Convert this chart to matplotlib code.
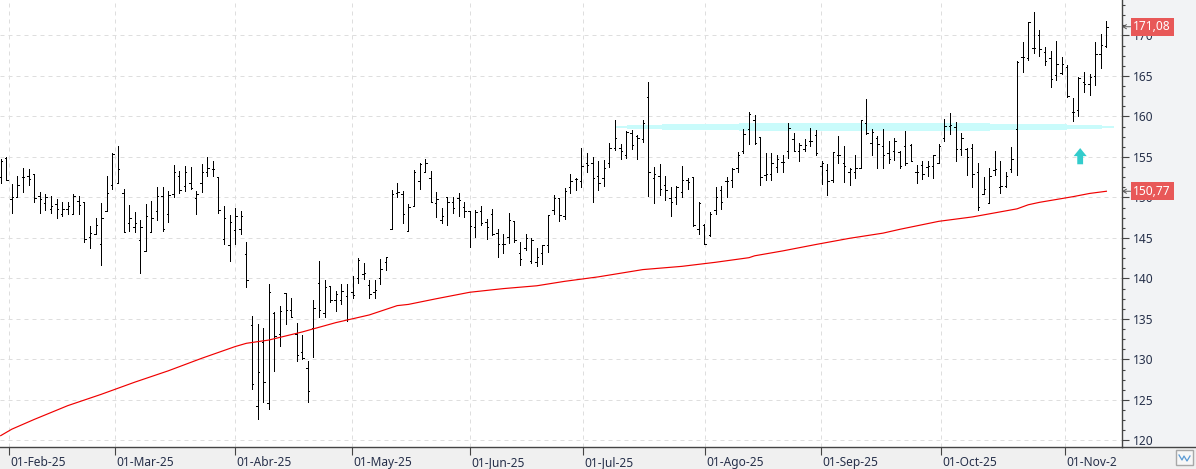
import matplotlib
matplotlib.use('Agg')
import matplotlib.pyplot as plt
from matplotlib.patches import Rectangle
from matplotlib.transforms import ScaledTranslation

plt.rcParams['font.family'] = ['Noto Sans', 'DejaVu Sans']

# daily OHLC, one row = 10 sessions
opens = [
    152.5, 154.9, 149.8, 150.0, 152.5, 152.7, 152.9, 150.2, 149.3, 148.6,
    149.2, 148.0, 148.6, 148.0, 149.6, 149.4, 145.1, 145.5, 144.3, 148.3,
    151.5, 151.8, 150.5, 146.9, 146.4, 144.8, 143.4, 145.7, 148.3, 150.2,
    148.0, 150.4, 152.65, 151.4, 151.75, 149.9, 151.75, 153.1, 153.5, 152.5,
    144.9, 144.1, 146.0, 146.1, 143.0, 134.2, 124.3, 132.2, 124.6, 135.8,
    133.1, 138.2, 136.1, 133.2, 130.9, 129.0, 133.85, 139.4, 135.7, 139.1,
    137.3, 137.4, 137.8, 138.3, 140.0, 140.6, 139.2, 138.3, 140.0, 142.0,
    146.1, 150.6, 150.4, 145.9, 149.0, 152.0, 153.2, 152.4, 149.3, 147.2,
    150.1, 149.5, 149.9, 148.8, 148.3, 146.4, 148.3, 147.0, 148.0, 145.6,
    144.3, 145.1, 147.1, 143.1, 143.8, 142.2, 142.0, 143.2, 144.1, 148.5,
    149.9, 147.7, 151.3, 152.3, 152.0, 154.2, 154.2, 152.6, 152.4, 154.3,
    156.15, 156.1, 155.3, 157.9, 157.6, 157.2, 162.4, 152.4, 152.7, 151.5,
    149.9, 150.1, 150.7, 152.2, 152.5, 146.1, 146.65, 145.4, 148.4, 150.9,
    152.0, 152.2, 153.7, 155.8, 158.4, 159.6, 157.5, 152.8, 152.9, 153.8,
    154.4, 155.7, 157.2, 155.8, 156.0, 157.0, 157.7, 153.9, 153.4, 152.2,
    155.25, 154.3, 153.1, 153.1, 153.7, 159.15, 156.7, 157.3, 156.4, 155.45,
    155.8, 155.6, 156.4, 156.5, 153.15, 154.0, 153.8, 153.9, 154.3, 157.4,
    158.8, 158.7, 156.0, 156.0, 156.1, 153.1, 150.4, 149.3, 153.4, 151.3,
    151.4, 153.5, 158.45, 167.4, 167.2, 168.5, 170.1, 167.9, 167.2, 165.1,
    165.4, 166.15, 160.5, 160.8, 164.2, 164.0, 165.0, 167.7, 168.7,
]
highs = [
    154.7, 154.95, 151.7, 152.7, 153.6, 153.5, 152.9, 150.7, 150.4, 150.2,
    149.8, 149.5, 149.5, 150.4, 150.2, 149.4, 146.5, 147.5, 149.3, 152.6,
    155.5, 156.4, 151.0, 149.1, 148.2, 147.2, 149.2, 149.6, 151.3, 151.25,
    150.8, 154.0, 153.3, 153.9, 153.8, 150.8, 154.1, 155.0, 154.5, 152.5,
    148.95, 147.8, 148.7, 148.3, 144.5, 135.4, 134.4, 133.9, 139.3, 135.9,
    136.6, 138.2, 137.6, 134.5, 133.0, 129.8, 137.35, 142.2, 139.8, 139.1,
    138.4, 139.3, 139.3, 140.3, 142.5, 141.9, 139.8, 139.8, 142.4, 142.6,
    150.9, 151.8, 150.8, 149.2, 153.4, 154.2, 154.75, 153.3, 150.7, 148.7,
    150.1, 150.1, 150.5, 149.5, 148.3, 148.4, 148.9, 147.4, 148.6, 146.1,
    145.5, 148.1, 147.1, 144.5, 145.5, 145.0, 143.8, 144.1, 147.8, 150.3,
    149.9, 151.2, 152.9, 152.45, 156.1, 155.5, 155.0, 154.5, 154.6, 156.7,
    159.6, 156.6, 158.2, 158.3, 157.7, 159.6, 164.3, 153.8, 154.1, 152.6,
    151.3, 151.4, 153.9, 152.4, 152.5, 149.5, 146.7, 148.2, 151.3, 151.4,
    152.5, 153.7, 155.6, 158.4, 160.5, 160.2, 157.5, 155.5, 155.5, 155.3,
    155.2, 159.2, 157.9, 156.7, 157.2, 158.6, 158.3, 154.5, 154.1, 155.6,
    157.6, 156.4, 153.6, 155.25, 159.6, 162.2, 158.4, 157.6, 158.5, 157.0,
    157.3, 155.7, 158.2, 156.6, 154.0, 154.5, 154.5, 155.25, 156.6, 159.7,
    160.4, 159.3, 158.0, 156.1, 156.6, 154.3, 152.5, 153.7, 155.7, 154.5,
    153.15, 156.2, 166.85, 169.2, 171.7, 172.9, 170.7, 168.6, 168.1, 169.3,
    167.4, 166.4, 162.25, 164.9, 165.5, 165.3, 169.2, 170.2, 171.8,
]
lows = [
    151.8, 152.1, 148.1, 150.0, 150.7, 151.5, 149.5, 148.1, 148.5, 148.1,
    147.5, 147.7, 148.0, 148.0, 148.0, 144.5, 143.8, 145.5, 141.7, 148.3,
    151.0, 151.8, 145.7, 145.9, 145.8, 140.7, 143.35, 145.7, 147.2, 145.9,
    147.0, 150.0, 150.5, 150.8, 151.0, 148.0, 150.7, 152.7, 152.65, 148.1,
    144.25, 142.2, 144.2, 145.5, 138.9, 126.4, 122.6, 124.8, 123.9, 128.6,
    131.7, 134.4, 135.2, 129.85, 130.1, 124.7, 130.35, 135.2, 135.2, 137.1,
    136.0, 136.8, 134.75, 137.6, 139.5, 139.9, 137.6, 137.6, 139.3, 141.0,
    146.1, 150.1, 146.9, 145.9, 148.9, 151.1, 153.2, 149.4, 147.6, 146.9,
    146.6, 148.1, 147.7, 147.6, 143.9, 145.1, 146.6, 144.9, 145.4, 142.7,
    143.2, 144.4, 144.5, 141.7, 143.5, 141.95, 141.6, 141.8, 143.3, 148.0,
    147.1, 147.3, 150.6, 150.9, 151.3, 153.2, 149.4, 150.9, 151.4, 153.8,
    155.9, 154.8, 154.9, 156.0, 154.8, 156.8, 150.2, 149.3, 150.3, 149.7,
    147.7, 149.2, 150.1, 151.1, 146.5, 145.5, 144.3, 145.2, 148.0, 148.6,
    150.0, 151.3, 153.2, 155.5, 156.6, 156.6, 151.5, 152.2, 152.2, 153.15,
    153.15, 154.9, 155.74, 154.5, 155.74, 156.4, 155.3, 151.7, 150.3, 151.95,
    154.3, 151.95, 151.5, 152.45, 153.6, 157.8, 155.25, 153.6, 153.6, 154.3,
    154.6, 153.6, 154.0, 154.5, 151.8, 152.3, 152.6, 152.45, 154.2, 157.0,
    157.8, 154.5, 155.25, 152.8, 151.3, 148.5, 150.4, 149.3, 152.8, 150.6,
    151.3, 153.1, 152.8, 165.5, 167.0, 167.8, 167.5, 166.3, 163.6, 164.5,
    165.2, 162.4, 159.4, 160.1, 163.0, 162.6, 163.9, 166.0, 168.6,
]
closes = [
    154.5, 152.2, 150.0, 151.6, 152.5, 152.3, 149.9, 149.8, 150.1, 148.9,
    148.6, 148.6, 148.9, 150.2, 149.1, 144.9, 145.6, 146.6, 147.5, 150.5,
    155.4, 153.5, 145.8, 147.5, 146.9, 146.3, 147.7, 147.5, 150.2, 146.1,
    150.3, 153.2, 150.9, 153.2, 151.2, 150.4, 153.1, 153.6, 153.5, 148.4,
    147.5, 147.0, 147.7, 147.7, 139.8, 127.0, 128.5, 127.2, 138.3, 132.9,
    136.0, 136.1, 135.3, 130.5, 130.2, 126.1, 136.3, 136.1, 138.9, 137.3,
    138.05, 138.4, 135.0, 138.0, 142.3, 140.7, 138.1, 138.6, 141.2, 142.6,
    150.4, 150.7, 147.9, 148.8, 153.2, 154.1, 154.3, 149.4, 149.8, 147.7,
    149.5, 148.7, 149.65, 148.3, 146.5, 148.2, 146.85, 146.3, 145.5, 144.3,
    144.3, 147.2, 144.8, 142.4, 144.96, 144.7, 142.6, 144.1, 147.8, 149.9,
    147.8, 150.8, 152.0, 152.3, 153.85, 154.0, 152.4, 151.8, 153.7, 156.1,
    157.35, 155.8, 158.1, 156.5, 157.35, 159.2, 153.2, 152.9, 151.1, 150.9,
    149.4, 151.3, 152.1, 151.9, 146.65, 149.3, 144.3, 148.0, 150.0, 149.5,
    152.0, 153.5, 155.3, 157.8, 160.3, 156.7, 152.5, 152.9, 154.3, 154.7,
    154.4, 158.6, 155.8, 156.5, 156.5, 157.0, 155.5, 154.3, 152.0, 155.6,
    155.3, 153.9, 153.5, 153.6, 159.6, 157.9, 158.1, 156.6, 155.25, 154.7,
    156.95, 153.9, 154.3, 154.5, 153.15, 152.9, 153.9, 155.2, 156.4, 158.8,
    158.9, 156.0, 157.4, 155.0, 152.9, 148.8, 151.1, 152.6, 153.5, 151.4,
    152.6, 154.8, 166.7, 167.3, 171.7, 168.5, 168.3, 166.85, 164.6, 166.5,
    166.5, 162.5, 160.5, 164.8, 164.0, 164.9, 167.7, 168.8, 171.08,
]

# moving average read at a set of sessions
ma_session = [0, 2, 6, 12, 18, 24, 30, 36, 42, 44, 48, 54, 60, 66, 71, 73, 78, 84, 90, 96,
              101, 107, 115, 122, 128, 134, 135, 140, 146, 152, 158, 161, 168, 174, 182,
              184, 186, 192, 195, 198]
ma_value = [120.6, 121.4, 122.6, 124.3, 125.7, 127.2, 128.6, 130.15, 131.6, 132.0, 132.4,
            133.4, 134.55, 135.5, 136.65, 136.8, 137.5, 138.3, 138.75, 139.1, 139.65, 140.2,
            141.1, 141.5, 142.0, 142.57, 142.8, 143.4, 144.2, 144.96, 145.6, 146.07, 147.06,
            147.6, 148.6, 149.1, 149.4, 150.1, 150.5, 150.77]

# cyan zone, top and bottom per step
band_session = [110.1, 112.2, 118.5, 132.2, 177.2, 191.0, 197.2, 199.4]
band_top = [158.87, 158.95, 159.07, 159.24, 159.07, 159.0, 158.8, 158.8]
band_bottom = [158.62, 158.4, 158.33, 158.2, 158.33, 158.45, 158.6, 158.6]

month_session = [1.4, 20.4, 42.0, 62.9, 84.0, 104.2, 126.1, 146.9, 168.4, 190.6]
month_labels = ['01-Feb-25', '01-Mar-25', '01-Abr-25', '01-May-25', '01-Jun-25',
                '01-Jul-25', '01-Ago-25', '01-Sep-25', '01-Oct-25', '01-Nov-2']
price_ticks = [120, 125, 130, 135, 140, 145, 150, 155, 160, 165, 170]
minor_ticks = [120 + 1.25 * k for k in range(44)]

last_close = 171.08
last_ma = 150.77

W, H = 1196, 469
fig = plt.figure(figsize=(W / 100, H / 100), dpi=100, facecolor='#f0f0f0')
ax = fig.add_axes([0, (H - 447.3) / H, 1121.5 / W, 447.3 / H])
ax.set_xlim(-0.125, 200.7)
ax.set_ylim(119.16, 174.38)

# right price panel
fig.patches.append(Rectangle((1121.5 / W, (H - 447.3) / H), (W - 1121.5) / W, 447.3 / H,
                             transform=fig.transFigure, facecolor='#f2f3f5', edgecolor='none', zorder=-5))

ax.set_axisbelow(True)
ax.grid(True, which='major', color='#dedede', linestyle=(0, (4, 4)), linewidth=0.72)

ax.fill_between(band_session, band_bottom, band_top, step='post', color='#c9fbfb', linewidth=0, zorder=1)

sessions = list(range(len(closes)))
left = [s - 0.25 for s in sessions]
right = [s + 0.25 for s in sessions]
ax.vlines(sessions, lows, highs, color='black', linewidth=0.7, antialiased=False, zorder=3)
ax.hlines(opens, left, sessions, color='black', linewidth=0.7, antialiased=False, zorder=3)
ax.hlines(closes, sessions, right, color='black', linewidth=0.7, antialiased=False, zorder=3)
ax.plot(ma_session, ma_value, color='#f00000', linewidth=0.85, zorder=4)

# buy arrow
ax.annotate('', xy=(193.3, 156.1), xytext=(193.3, 154.1),
            arrowprops=dict(width=4.2, headwidth=9.4, headlength=5.8, color='#33cccc', linewidth=0))

for s in ['top', 'left']:
    ax.spines[s].set_visible(False)
for s in ['right', 'bottom']:
    ax.spines[s].set_color('#444444')
    ax.spines[s].set_linewidth(1.0)

text_col = '#26304a'
ax.yaxis.tick_right()
ax.set_yticks(price_ticks)
ax.set_yticks(minor_ticks, minor=True)
ax.tick_params(axis='y', which='major', length=5, width=0.8, color='#444444', pad=3,
               labelsize=8.6, labelcolor=text_col)
ax.tick_params(axis='y', which='minor', length=2.4, width=0.8, color='#444444')
ax.set_xticks(month_session)
ax.set_xticklabels(month_labels, ha='left')
ax.tick_params(axis='x', length=6, width=0.8, color='#444444', pad=0, labelsize=8.6, labelcolor=text_col)
shift = ScaledTranslation(1.5 / 100, 0, fig.dpi_scale_trans)
for lab in ax.get_xticklabels():
    lab.set_transform(lab.get_transform() + shift)

# last price flags
for val, txt in [(last_close, '171,08'), (last_ma, '150,77')]:
    ax.annotate(txt, xy=(1.0105, val), xycoords=('axes fraction', 'data'), va='center', ha='left',
                color='white', fontsize=8.6, zorder=10, annotation_clip=False,
                bbox=dict(boxstyle='square,pad=0.22', facecolor='#e85858', edgecolor='none'))
    ax.annotate('', xy=(1.0005, val), xytext=(1.008, val), xycoords=('axes fraction', 'data'),
                textcoords=('axes fraction', 'data'), annotation_clip=False,
                arrowprops=dict(arrowstyle='->,head_length=0.25,head_width=0.15', color='#555555',
                                linewidth=0.7, shrinkA=0, shrinkB=0))

# bottom rule runs on under the price panel
fig.add_artist(plt.Line2D([1121.5 / W, 1], [(H - 447.3) / H] * 2, color='#444444', linewidth=1.0))

# small chart-type button
fig.patches.append(Rectangle((1176 / W, (H - 465) / H), 16.5 / W, 15.5 / H, transform=fig.transFigure,
                             facecolor='#f7f7f7', edgecolor='#a8a8a8', linewidth=1.0))
fig.add_artist(plt.Line2D([x / W for x in (1179, 1182, 1184, 1187, 1190)],
                          [(H - y) / H for y in (455, 460, 456, 461, 456)],
                          color='#5b9bd5', linewidth=0.9))

fig.savefig('out.png', dpi=100, facecolor=fig.get_facecolor())
